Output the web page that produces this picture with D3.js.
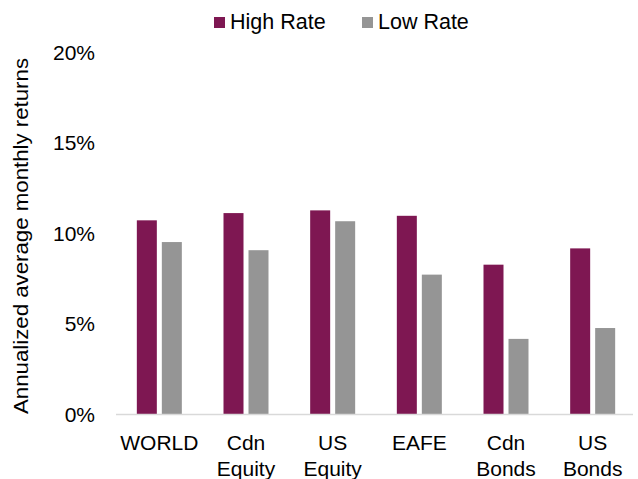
<!DOCTYPE html>
<html>
<head>
<meta charset="utf-8">
<script src="https://cdn.jsdelivr.net/npm/d3@7"></script>
<style>
  body { margin: 0; background: #ffffff; }
  svg text { font-family: "Liberation Sans", Arial, sans-serif; fill: #000000; }
</style>
</head>
<body>
<svg id="chart" width="638" height="479"></svg>
<script>
const CATEGORIES = [["WORLD"], ["Cdn", "Equity"], ["US", "Equity"], ["EAFE"], ["Cdn", "Bonds"], ["US", "Bonds"]];
const SERIES = ["High Rate", "Low Rate"];
const HIGH_RATE = [10.7, 11.1, 11.25, 10.95, 8.25, 9.15];
const LOW_RATE = [9.5, 9.05, 10.65, 7.7, 4.15, 4.75];
const Y_TICKS = [0, 5, 10, 15, 20];
const COLORS = ["#7e1752", "#959595"];

const svg = d3.select("#chart");
const numFormatPct = (x) => d3.format(".0f")(x) + "%";

const catKeys = CATEGORIES.map((x) => x.join(" "));

const xScale = d3.scaleBand()
  .domain(catKeys)
  .range([116, 636]);

const xInner = d3.scaleBand()
  .domain(SERIES)
  .range([-22.5, 22.5])
  .paddingInner(0.2);

const yScale = d3.scaleLinear()
  .domain([0, 20])
  .range([414, 52]);

const colorScale = d3.scaleOrdinal()
  .domain(SERIES)
  .range(COLORS);

// rows for bars
const rows = [];
catKeys.forEach((key, i) => {
  rows.push({"cat": key, "series": SERIES[0], "value": HIGH_RATE[i]});
  rows.push({"cat": key, "series": SERIES[1], "value": LOW_RATE[i]});
});

// y tick labels (no axis line, no gridlines)
const yAxis = d3.axisLeft(yScale)
  .tickValues(Y_TICKS)
  .tickFormat(numFormatPct)
  .tickSize(0)
  .tickPadding(0);

const yAxisGroup = svg.append("g")
  .attr("transform", "translate(95,0)")
  .call(yAxis);
yAxisGroup.select(".domain").remove();
yAxisGroup.selectAll("text")
  .style("font-size", "21px")
  .attr("font-family", null)
  .attr("dy", "0.35em");

// bars
svg.append("g")
  .selectAll(".bar")
  .data(rows)
  .enter()
  .append("rect")
  .classed("bar", true)
  .attr("x", (d) => xScale(d.cat) + xScale.bandwidth() / 2 + xInner(d.series))
  .attr("y", (d) => yScale(d.value))
  .attr("width", xInner.bandwidth())
  .attr("height", (d) => yScale(0) - yScale(d.value))
  .attr("fill", (d) => colorScale(d.series));

// x axis line
svg.append("line")
  .attr("x1", 116)
  .attr("x2", 633)
  .attr("y1", yScale(0) + 0.5)
  .attr("y2", yScale(0) + 0.5)
  .attr("stroke", "#d9d9d9")
  .attr("stroke-width", 1.5);

// category labels, two lines
const catLabels = svg.append("g")
  .selectAll(".cat-label")
  .data(CATEGORIES)
  .enter()
  .append("text")
  .classed("cat-label", true)
  .attr("text-anchor", "middle")
  .style("font-size", "21px");

catLabels.selectAll("tspan")
  .data((d, i) => d.map((line) => ({"line": line, "key": catKeys[i]})))
  .enter()
  .append("tspan")
  .attr("x", (d) => xScale(d.key) + xScale.bandwidth() / 2)
  .attr("y", (d, j) => 450 + j * 25.5)
  .text((d) => d.line);

// y axis title
svg.append("text")
  .attr("transform", "translate(27.5," + 236 + ") rotate(-90)")
  .attr("text-anchor", "middle")
  .attr("textLength", 356)
  .attr("lengthAdjust", "spacingAndGlyphs")
  .style("font-size", "20px")
  .text("Annualized average monthly returns");

// legend
const legendX = [214, 362];
const legend = svg.append("g")
  .selectAll(".legend-item")
  .data(SERIES)
  .enter()
  .append("g")
  .classed("legend-item", true)
  .attr("transform", (d, i) => "translate(" + legendX[i] + ",17)");

legend.append("rect")
  .attr("width", 11)
  .attr("height", 11)
  .attr("fill", (d) => colorScale(d));

legend.append("text")
  .attr("x", 16)
  .attr("y", 12)
  .style("font-size", "21.5px")
  .text((d) => d);
</script>
</body>
</html>
